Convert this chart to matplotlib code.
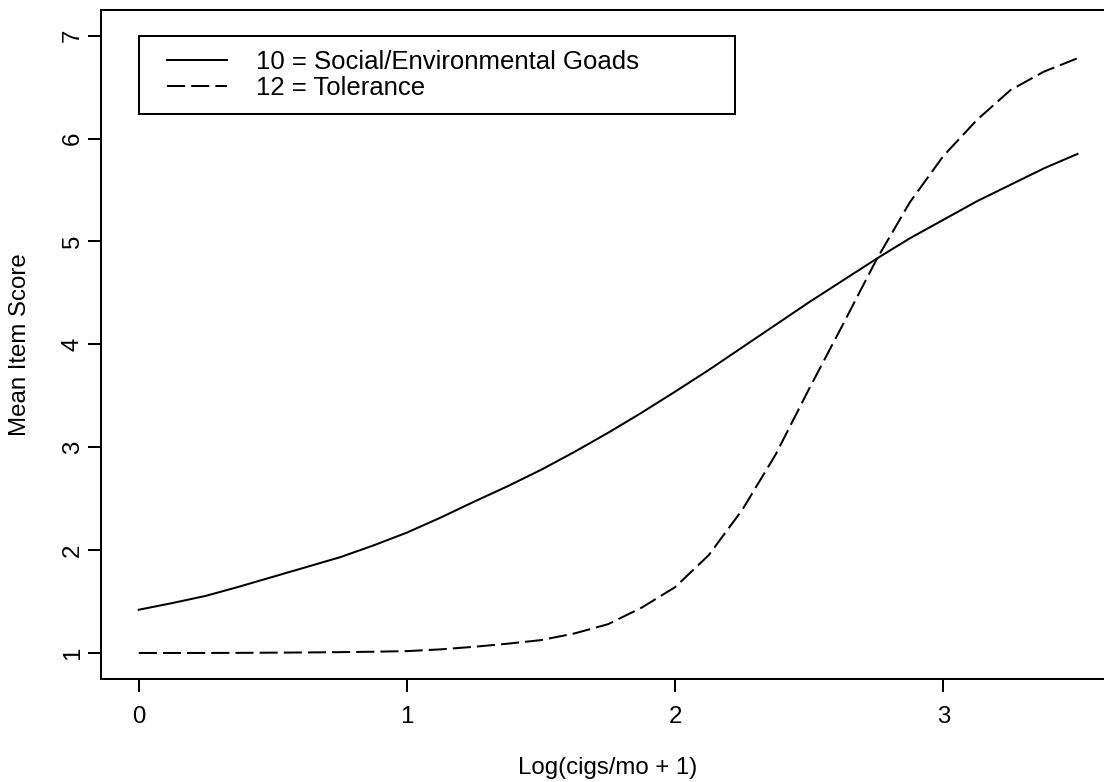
import matplotlib
matplotlib.use("Agg")
import matplotlib.pyplot as plt
from matplotlib.lines import Line2D
from matplotlib.legend_handler import HandlerLine2D

plt.rcParams['font.family'] = ['Liberation Sans', 'DejaVu Sans']

# Data
x_log = [0.0, 0.125, 0.25, 0.375, 0.5, 0.625, 0.75, 0.875, 1.0, 1.125, 1.25, 1.375,
         1.5, 1.625, 1.75, 1.875, 2.0, 2.125, 2.25, 2.375, 2.5, 2.625, 2.75, 2.875,
         3.0, 3.125, 3.25, 3.375, 3.5]
goads = [1.42, 1.485, 1.555, 1.645, 1.74, 1.835, 1.93, 2.045, 2.17, 2.315, 2.47, 2.62,
         2.78, 2.955, 3.14, 3.335, 3.54, 3.75, 3.97, 4.19, 4.41, 4.62, 4.83, 5.03,
         5.21, 5.39, 5.55, 5.71, 5.85]
tolerance = [1.0, 1.0, 1.0, 1.001, 1.003, 1.005, 1.008, 1.012, 1.018, 1.035, 1.06, 1.09,
             1.125, 1.19, 1.28, 1.44, 1.64, 1.95, 2.39, 2.93, 3.57, 4.19, 4.82, 5.38,
             5.83, 6.18, 6.47, 6.65, 6.78]
series_labels = ["10 = Social/Environmental Goads", "12 = Tolerance"]
x_ticks = [0, 1, 2, 3]
y_ticks = [1, 2, 3, 4, 5, 6, 7]
x_title = "Log(cigs/mo + 1)"
y_title = "Mean Item Score"

W, H = 1104, 782
fig = plt.figure(figsize=(W / 100, H / 100), dpi=100)
left, right, top, bottom = 101.2, 1115.0, 10.0, 679.0
ax = fig.add_axes([left / W, (H - bottom) / H, (right - left) / W, (bottom - top) / H])

lw = 1.45
l1, = ax.plot(x_log, goads, color='black', lw=lw, linestyle='-', label=series_labels[0])
l2, = ax.plot(x_log, tolerance, color='black', lw=lw, linestyle=(0, (9, 3)),
              label=series_labels[1])

ax.set_xlim(-0.14, 3.64)
ax.set_ylim(0.747, 7.249)
ax.set_xticks(x_ticks)
ax.set_yticks(y_ticks)
ax.set_xticklabels([str(t) for t in x_ticks])
ax.set_yticklabels([str(t) for t in y_ticks], rotation=90, va='center')

fs = 17.3
ax.tick_params(axis='both', length=9.4, width=lw, labelsize=fs, colors='black')
ax.tick_params(axis='x', pad=10)
ax.tick_params(axis='y', pad=3)
for s in ax.spines.values():
    s.set_linewidth(lw)
    s.set_color('black')

xl = ax.set_xlabel(x_title, fontsize=fs)
ax.xaxis.set_label_coords(0.5, -0.133)
xl.set_va('center')
yl = ax.set_ylabel(y_title, fontsize=fs)
ax.yaxis.set_label_coords(-0.0801, 0.5)
yl.set_va('center')

# legend: box from x=0 to ~2.225 in data, top at y=7
lfs = 18.5
leg = ax.legend(handles=[l1, l2], loc='upper left',
                bbox_to_anchor=(0.0, 7.0, 2.225, 0.0), bbox_transform=ax.transData,
                mode='expand',
                frameon=True, fancybox=False, edgecolor='black', framealpha=1,
                fontsize=lfs, handlelength=2.89, handletextpad=1.13, borderpad=0.55,
                labelspacing=0.1, borderaxespad=0.0,
                handler_map={Line2D: HandlerLine2D(xpad=0.56)})
leg.get_frame().set_linewidth(lw)

fig.savefig("out.png", dpi=100)
